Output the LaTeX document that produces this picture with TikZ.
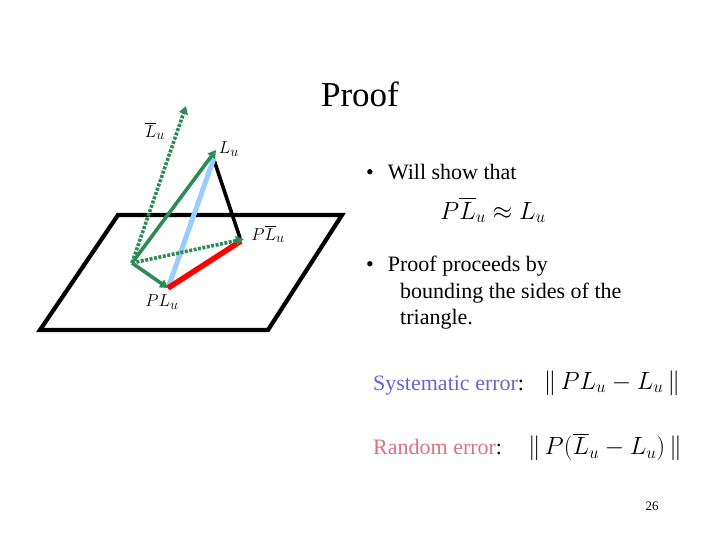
\documentclass[tikz,border=0pt]{standalone}
\usepackage{fontspec}
\setmainfont{Liberation Serif}
\usepackage{amsmath}
\usetikzlibrary{arrows.meta}
\definecolor{vgreen}{RGB}{46,139,87}
\definecolor{lblue}{RGB}{153,204,255}
\definecolor{sysc}{RGB}{102,102,204}
\definecolor{randc}{RGB}{224,112,128}
\tikzset{vec/.style={vgreen,line width=3.6pt,-{Triangle[length=8pt,width=9pt]}},
 dvec/.style={vec,dash pattern=on 3pt off 1.5pt},
 lbl/.style={inner sep=0pt,font=\fontsize{19}{19}\selectfont},
 txt/.style={inner sep=0pt,anchor=base west,font=\fontsize{22}{26.5}\selectfont}}
\begin{document}
\begin{tikzpicture}[x=1pt,y=-1pt]
\useasboundingbox (0,0) rectangle (720,540);
\coordinate (a) at (118,215); \coordinate (b) at (342,215);
\coordinate (c) at (268,330); \coordinate (d) at (40,330);
\draw[line width=4.2pt,line join=miter] (a)--(b)--(c)--(d)--cycle;
\coordinate (O) at (132,263); \coordinate (Lb) at (186,106);
\coordinate (Lu) at (216,150); \coordinate (PL) at (168,288);
\coordinate (PLb) at (244,239);
\draw[black,line width=3.6pt] (214,160)--(240,238);
\draw[lblue,line width=5pt] (PL)--(214,158);
\draw[red,line width=5.5pt] (PL)--(241,241);
\draw[dvec] (O)--(Lb);
\draw[vec] (O)--(Lu);
\draw[dvec] (O)--(PLb);
\draw[vec] (O)--(PL);
\node[lbl] (l1) at (155,131) {$\overline{L}_{u}$};
\node[lbl] (l2) at (229,149) {$L_{u}$};
\node[lbl] (l3) at (268,234) {$P\overline{L}_{u}$};
\node[lbl] (l4) at (162,302) {$PL_{u}$};
\node[inner sep=0pt,font=\fontsize{35}{35}\selectfont] (t) at (360,94) {Proof};
\node[txt] (b1) at (366,180) {•\hspace{14pt}Will show that};
\node[inner sep=0pt,font=\fontsize{25}{25}\selectfont] (f1) at (493,210) {$P\overline{L}_{u}\approx L_{u}$};
\node[txt,anchor=north west,align=left] (b2) at (366,256) {•\hspace{14pt}Proof proceeds by\\\hspace{34pt}bounding the sides of the\\\hspace{34pt}triangle.};
\node[txt,text=sysc] (s) at (373,390) {Systematic error\textcolor{black}{:}};
\node[inner sep=0pt,font=\fontsize{26}{26}\selectfont] (sf) at (612,383) {$\|\,PL_u-L_u\,\|$};
\node[txt,text=randc] (r) at (373,454) {Random error\textcolor{black}{:}};
\node[inner sep=0pt,font=\fontsize{26}{26}\selectfont] (rf) at (605,447) {$\|\,P(\overline{L}_u-L_u)\,\|$};
\node[inner sep=0pt,font=\fontsize{13}{13}\selectfont] (n) at (652,506) {26};
\end{tikzpicture}
\end{document}
